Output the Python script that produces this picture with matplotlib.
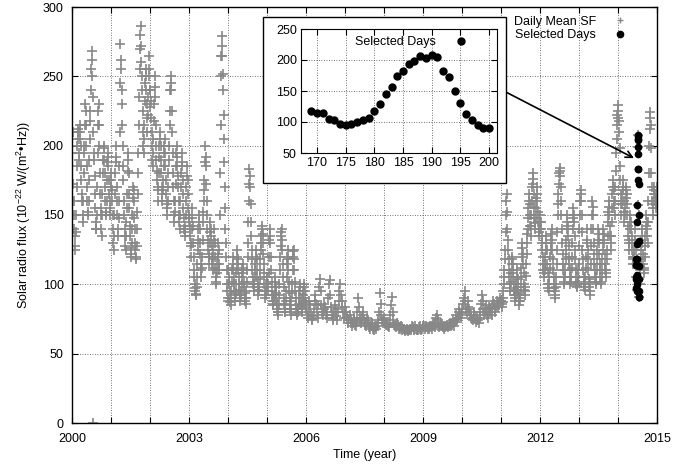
import numpy as np
import matplotlib
matplotlib.use("Agg")
import matplotlib.pyplot as plt
from matplotlib.ticker import MultipleLocator, FuncFormatter
from matplotlib.patches import Rectangle

plt.rcParams['font.family'] = ['Liberation Sans', 'DejaVu Sans']
plt.rcParams['mathtext.fontset'] = 'custom'
plt.rcParams['mathtext.rm'] = 'Liberation Sans'
plt.rcParams['mathtext.it'] = 'Liberation Sans'

# ---- Daily mean solar flux, read approx. weekly from the picture (52 per year) ----
sf_2000 = [195, 172, 150, 135, 128, 150, 185, 210, 205, 190, 215, 200, 175, 160, 145, 180,
           200, 230, 215, 185, 160, 150, 175, 205, 225, 255, 268, 235, 0, 190, 165, 145,
           140, 170, 215, 230, 200, 165, 150, 135, 165, 190, 200, 180, 160, 150, 175, 195,
           185, 165, 150, 170]
sf_2001 = [175, 160, 140, 125, 150, 180, 200, 170, 150, 135, 160, 210, 273, 255, 230, 200,
           175, 150, 135, 125, 145, 165, 195, 180, 155, 135, 120, 130, 150, 170, 160, 140,
           125, 118, 140, 165, 195, 235, 270, 286, 260, 240, 210, 195, 215, 245, 250, 230,
           210, 235, 265, 240]
sf_2002 = [240, 220, 200, 185, 205, 230, 250, 215, 190, 175, 160, 180, 200, 210, 190, 170,
           160, 175, 195, 205, 185, 165, 150, 160, 180, 200, 225, 250, 240, 210, 180, 160,
           145, 160, 185, 200, 185, 170, 150, 140, 160, 180, 195, 175, 155, 140, 135, 150,
           170, 185, 165, 145]
sf_2003 = [150, 135, 120, 140, 155, 130, 110, 100, 95, 92, 105, 125, 140, 150, 130, 115,
           105, 120, 145, 160, 175, 200, 185, 160, 140, 125, 115, 130, 145, 135, 120, 110,
           125, 140, 120, 105, 100, 115, 130, 110, 125, 180, 250, 279, 265, 240, 205, 170,
           140, 120, 100, 90]
sf_2004 = [110, 100, 90, 85, 95, 110, 120, 105, 95, 88, 100, 115, 125, 110, 100, 92,
           88, 95, 105, 115, 108, 98, 90, 86, 95, 110, 130, 160, 183, 170, 145, 125,
           110, 100, 95, 105, 115, 125, 110, 100, 92, 98, 110, 125, 135, 142, 130, 115,
           100, 90, 95, 105]
sf_2005 = [105, 95, 120, 140, 130, 110, 95, 88, 85, 92, 105, 98, 90, 82, 78, 85,
           100, 120, 135, 140, 125, 105, 90, 82, 80, 95, 115, 125, 110, 95, 85, 78,
           88, 100, 120, 125, 110, 95, 85, 80, 78, 82, 90, 100, 95, 85, 80, 88,
           95, 100, 90, 84]
sf_2006 = [82, 78, 76, 80, 88, 85, 78, 75, 74, 77, 82, 88, 92, 86, 80, 76,
           85, 98, 104, 95, 85, 80, 78, 82, 86, 84, 78, 76, 80, 90, 100, 103,
           92, 84, 78, 74, 76, 80, 85, 82, 77, 74, 80, 88, 95, 100, 92, 84,
           88, 80, 76, 80]
sf_2007 = [84, 80, 76, 74, 72, 75, 78, 74, 72, 70, 72, 76, 74, 71, 70, 73,
           80, 90, 84, 76, 74, 72, 76, 80, 78, 74, 71, 70, 72, 76, 74, 71,
           69, 68, 70, 72, 70, 68, 67, 69, 70, 68, 70, 72, 74, 80, 94, 86,
           78, 74, 72, 76]
sf_2008 = [74, 72, 71, 72, 71, 70, 69, 72, 78, 85, 91, 80, 74, 71, 70, 69,
           70, 72, 71, 69, 68, 68, 70, 69, 67, 68, 68, 67, 66, 67, 68, 67,
           66, 67, 68, 67, 68, 70, 69, 67, 68, 70, 68, 67, 68, 67, 69, 70,
           68, 67, 68, 70]
sf_2009 = [69, 70, 68, 69, 70, 69, 68, 68, 69, 70, 69, 68, 70, 72, 70, 69,
           72, 76, 78, 74, 70, 69, 70, 72, 71, 70, 69, 70, 68, 69, 70, 71,
           70, 69, 70, 72, 71, 70, 71, 74, 72, 70, 73, 78, 75, 74, 76, 80,
           82, 78, 76, 79]
sf_2010 = [82, 86, 90, 95, 88, 82, 80, 84, 88, 82, 78, 76, 78, 75, 74, 78,
           80, 76, 73, 74, 76, 74, 72, 76, 80, 86, 92, 88, 82, 78, 80, 85,
           82, 78, 76, 80, 84, 82, 80, 78, 84, 88, 86, 82, 80, 84, 88, 86,
           84, 86, 90, 88]
sf_2011 = [88, 84, 90, 100, 110, 125, 150, 165, 140, 125, 110, 100, 95, 108, 120, 115,
           105, 95, 88, 92, 100, 110, 98, 90, 85, 92, 105, 120, 130, 115, 100, 92,
           98, 115, 130, 140, 155, 165, 150, 135, 150, 170, 180, 165, 148, 140, 155, 170,
           160, 145, 135, 140]
sf_2012 = [150, 140, 130, 120, 110, 105, 115, 125, 135, 115, 100, 95, 105, 120, 130, 140,
           125, 110, 100, 95, 90, 105, 125, 150, 165, 180, 184, 170, 150, 130, 115, 105,
           100, 110, 125, 140, 150, 135, 120, 110, 100, 105, 120, 140, 155, 145, 125, 110,
           100, 98, 105, 115]
sf_2013 = [140, 160, 168, 150, 125, 110, 100, 96, 105, 120, 140, 125, 110, 98, 92, 115,
           140, 160, 150, 130, 115, 105, 100, 110, 125, 140, 130, 115, 105, 100, 110, 125,
           140, 130, 115, 105, 110, 125, 145, 160, 150, 135, 125, 145, 165, 175, 160, 150,
           170, 195, 215, 229]
sf_2014 = [225, 210, 185, 165, 150, 165, 175, 160, 145, 155, 170, 165, 150, 135, 125, 140,
           150, 140, 130, 120, 115, 125, 140, 125, 105, 118, 199, 150, 91, 110, 125, 140,
           130, 115, 108, 120, 135, 150, 140, 130, 160, 200, 224, 215, 180, 160, 150, 165,
           170, 160, 155, 170]

# second reading per week (half a week later) for the active years
sf2_2000 = [210, 160, 140, 125, 138, 170, 200, 212, 195, 205, 210, 185, 165, 150, 160, 195,
            215, 225, 200, 170, 152, 160, 190, 218, 240, 262, 250, 210, 195, 178, 155, 140,
            150, 195, 225, 215, 180, 155, 140, 150, 180, 198, 190, 170, 152, 160, 188, 192,
            175, 155, 160, 180]
sf2_2001 = [168, 150, 130, 135, 165, 192, 188, 160, 140, 148, 185, 245, 262, 240, 215, 185,
            160, 140, 128, 135, 155, 182, 190, 165, 142, 126, 122, 140, 162, 168, 148, 130,
            120, 128, 152, 180, 215, 255, 280, 272, 250, 225, 200, 205, 232, 255, 240, 220,
            222, 250, 255, 228]
sf2_2002 = [232, 210, 190, 195, 218, 242, 235, 200, 182, 168, 170, 192, 205, 200, 180, 165,
            168, 185, 200, 195, 175, 158, 155, 170, 190, 215, 240, 245, 225, 195, 170, 150,
            152, 172, 195, 192, 178, 160, 145, 150, 170, 188, 185, 165, 148, 138, 142, 160,
            178, 175, 155, 148]
sf2_2003 = [142, 128, 130, 148, 142, 120, 105, 97, 93, 98, 115, 132, 145, 140, 122, 110,
            112, 132, 152, 168, 188, 192, 172, 150, 132, 120, 122, 138, 140, 128, 115, 118,
            132, 130, 112, 102, 108, 122, 120, 115, 150, 215, 265, 272, 252, 222, 188, 155,
            130, 110, 95, 88]
sf2_2004 = [105, 95, 87, 90, 102, 115, 112, 100, 92, 94, 108, 120, 118, 105, 96, 90,
            92, 100, 110, 112, 102, 94, 88, 90, 102, 120, 145, 172, 178, 158, 135, 118,
            105, 98, 100, 110, 120, 118, 105, 96, 95, 104, 118, 130, 140, 136, 122, 108,
            95, 92, 100, 98]
sf2_2005 = [100, 108, 132, 135, 120, 102, 92, 86, 88, 98, 102, 94, 86, 80, 80, 92,
            110, 128, 138, 132, 115, 98, 86, 80, 88, 105, 120, 118, 102, 90, 82, 82,
            94, 110, 124, 118, 102, 90, 82, 79, 80, 86, 95, 98, 90, 82, 84, 92,
            98, 95, 87, 86]
sf2_2011 = [86, 87, 95, 105, 118, 138, 160, 152, 132, 118, 105, 97, 102, 115, 118, 110,
            100, 92, 90, 96, 105, 104, 94, 88, 88, 98, 112, 126, 122, 108, 96, 95,
            106, 122, 136, 148, 160, 158, 142, 142, 160, 176, 172, 156, 144, 148, 162, 165,
            152, 140, 138, 145]
sf2_2012 = [145, 135, 125, 115, 108, 110, 120, 130, 125, 108, 97, 100, 112, 125, 136, 132,
            118, 105, 97, 92, 98, 115, 138, 158, 172, 182, 178, 160, 140, 122, 110, 102,
            105, 118, 132, 145, 142, 128, 115, 105, 102, 112, 130, 148, 150, 135, 118, 105,
            99, 102, 110, 128]
sf2_2013 = [150, 165, 160, 138, 118, 105, 98, 100, 112, 130, 132, 118, 104, 95, 102, 128,
            150, 156, 140, 122, 110, 102, 105, 118, 132, 136, 122, 110, 102, 105, 118, 132,
            136, 122, 110, 108, 118, 135, 152, 156, 142, 130, 135, 155, 170, 168, 155, 160,
            182, 205, 222, 220]
sf2_2014 = [218, 198, 175, 158, 158, 170, 168, 152, 150, 162, 168, 158, 142, 130, 132, 145,
            145, 135, 125, 118, 120, 132, 132, 115, 96, 157, 208, 104, 100, 118, 132, 135,
            122, 110, 112, 128, 142, 145, 135, 145, 180, 212, 220, 198, 170, 155, 158, 168,
            165, 158, 162, 165]

years = list(range(2000, 2015))
sf_by_year = [sf_2000, sf_2001, sf_2002, sf_2003, sf_2004, sf_2005, sf_2006, sf_2007,
              sf_2008, sf_2009, sf_2010, sf_2011, sf_2012, sf_2013, sf_2014]
years2 = [2000, 2001, 2002, 2003, 2004, 2005, 2011, 2012, 2013, 2014]
sf2_by_year = [sf2_2000, sf2_2001, sf2_2002, sf2_2003, sf2_2004, sf2_2005,
               sf2_2011, sf2_2012, sf2_2013, sf2_2014]

# ---- Selected days (day of year 2014) ----
sel_days = list(range(169, 201))
sel_vals = [118, 114, 114, 105, 104, 97, 95, 96, 100, 103, 107, 118, 129, 145, 157, 175,
            183, 194, 199, 207, 204, 208, 205, 183, 172, 150, 131, 113, 104, 95, 91, 91]
sel_year = 2014

t_all, v_all = [], []
for y, vals in zip(years, sf_by_year):
    n = len(vals)
    for i, v in enumerate(vals):
        t_all.append(y + (i + 0.5) / n)
        v_all.append(v)
for y, vals in zip(years2, sf2_by_year):
    n = len(vals)
    for i, v in enumerate(vals):
        t_all.append(y + (i + 1.0) / n)
        v_all.append(v)
t_all = np.array(t_all)
v_all = np.array(v_all)
t_sel = sel_year + (np.array(sel_days) - 1) / 365.0

fig = plt.figure(figsize=(6.92, 4.67), dpi=100)
ax = fig.add_axes([72/692, 1-423/467, 585/692, 416/467])

grid_kw = dict(color='#444444', linestyle=(0, (1, 2)), linewidth=0.6)
ax.plot(t_all, v_all, linestyle='none', marker='+', color='#888888',
        markersize=6.5, markeredgewidth=1.2, label='Daily Mean SF', zorder=2)
ax.plot(t_sel, sel_vals, linestyle='none', marker='o', color='black',
        markersize=4.5, label='Selected Days', zorder=3)

ax.set_xlim(2000, 2015)
ax.set_ylim(0, 300)
ax.xaxis.set_major_locator(MultipleLocator(1))
ax.xaxis.set_major_formatter(FuncFormatter(
    lambda x, p: f"{int(round(x))}" if (int(round(x)) - 2000) % 3 == 0 else ""))
ax.yaxis.set_major_locator(MultipleLocator(50))
ax.tick_params(direction='in', top=True, right=True, length=4, width=0.8, labelsize=9)
ax.tick_params(axis='x', pad=7)
ax.tick_params(axis='y', pad=6)
ax.grid(True, **grid_kw)
ax.set_axisbelow(True)
for s in ax.spines.values():
    s.set_linewidth(1.0)
ax.set_xlabel('Time (year)', fontsize=9, labelpad=3)
ax.set_ylabel(r'Solar radio flux (10$^{-22}$ W/(m$^2$•Hz))', fontsize=9, labelpad=7)

leg = ax.legend(loc='upper right', bbox_to_anchor=(0.968, 1.0), frameon=False,
                markerfirst=False, fontsize=9, handletextpad=1.2, borderaxespad=0.3,
                labelspacing=0.1, handlelength=1.5)
leg.legend_handles[0].set_markersize(5)
leg.legend_handles[0].set_markeredgewidth(1.0)

# arrow from inset to selected points
ax.annotate('', xy=(2014.41, 191), xytext=(2011.13, 238.6),
            arrowprops=dict(arrowstyle='->', color='black', lw=1.2,
                            mutation_scale=12, shrinkA=0, shrinkB=0), zorder=5)

# inset frame
fig.patches.append(Rectangle((263/692, 1-183/467), 243/692, 166/467,
                             transform=fig.transFigure, facecolor='white',
                             edgecolor='black', linewidth=1.0, zorder=6))

axi = fig.add_axes([301/692, 1-153/467, 196/692, 124/467], zorder=7)
axi.plot(sel_days, sel_vals, linestyle='none', marker='o', color='black',
         markersize=5, label='Selected Days')
axi.set_xlim(167.2, 201.4)
axi.set_ylim(50, 250)
axi.xaxis.set_major_locator(MultipleLocator(5))
axi.yaxis.set_major_locator(MultipleLocator(50))
axi.tick_params(direction='in', top=True, right=True, length=4, width=0.8, labelsize=9, pad=3)
axi.grid(True, **grid_kw)
axi.set_axisbelow(True)
axi.legend(loc='upper right', bbox_to_anchor=(0.9, 1.0), frameon=False, markerfirst=False,
           fontsize=9, handletextpad=1.2, borderaxespad=0.2, handlelength=1.5)

fig.savefig('out.png', dpi=100)
